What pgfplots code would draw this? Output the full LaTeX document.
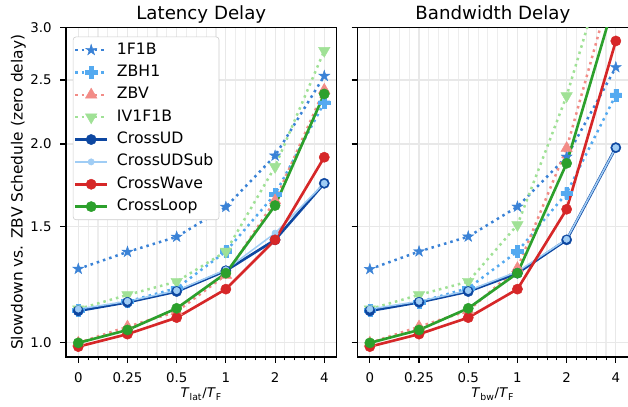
\documentclass[border=0pt]{standalone}
\usepackage{pgfplots}
\pgfplotsset{compat=1.18}
\usepackage{pgfplotstable}
\usepackage{fontspec}
\setmainfont{DejaVu Sans}
\usetikzlibrary{plotmarks}

\definecolor{cOne}{RGB}{58,130,214}
\definecolor{cZbh}{RGB}{85,170,240}
\definecolor{cZbv}{RGB}{242,140,135}
\definecolor{cIv}{RGB}{160,225,150}
\definecolor{cUd}{RGB}{13,71,161}
\definecolor{cUds}{RGB}{160,205,245}
\definecolor{cWave}{RGB}{214,39,40}
\definecolor{cLoop}{RGB}{44,160,44}

% filled five-pointed star
\pgfdeclareplotmark{fstar}{%
  \pgfpathmoveto{\pgfpointpolar{90}{1.3\pgfplotmarksize}}%
  \pgfpathlineto{\pgfpointpolar{126}{0.5\pgfplotmarksize}}%
  \pgfpathlineto{\pgfpointpolar{162}{1.3\pgfplotmarksize}}%
  \pgfpathlineto{\pgfpointpolar{198}{0.5\pgfplotmarksize}}%
  \pgfpathlineto{\pgfpointpolar{234}{1.3\pgfplotmarksize}}%
  \pgfpathlineto{\pgfpointpolar{270}{0.5\pgfplotmarksize}}%
  \pgfpathlineto{\pgfpointpolar{306}{1.3\pgfplotmarksize}}%
  \pgfpathlineto{\pgfpointpolar{342}{0.5\pgfplotmarksize}}%
  \pgfpathlineto{\pgfpointpolar{18}{1.3\pgfplotmarksize}}%
  \pgfpathlineto{\pgfpointpolar{54}{0.5\pgfplotmarksize}}%
  \pgfpathclose
  \pgfusepathqfillstroke}
% filled thick plus
\pgfdeclareplotmark{fplus}{%
  \pgfpathmoveto{\pgfpoint{-0.33\pgfplotmarksize}{\pgfplotmarksize}}%
  \pgfpathlineto{\pgfpoint{0.33\pgfplotmarksize}{\pgfplotmarksize}}%
  \pgfpathlineto{\pgfpoint{0.33\pgfplotmarksize}{0.33\pgfplotmarksize}}%
  \pgfpathlineto{\pgfpoint{\pgfplotmarksize}{0.33\pgfplotmarksize}}%
  \pgfpathlineto{\pgfpoint{\pgfplotmarksize}{-0.33\pgfplotmarksize}}%
  \pgfpathlineto{\pgfpoint{0.33\pgfplotmarksize}{-0.33\pgfplotmarksize}}%
  \pgfpathlineto{\pgfpoint{0.33\pgfplotmarksize}{-\pgfplotmarksize}}%
  \pgfpathlineto{\pgfpoint{-0.33\pgfplotmarksize}{-\pgfplotmarksize}}%
  \pgfpathlineto{\pgfpoint{-0.33\pgfplotmarksize}{-0.33\pgfplotmarksize}}%
  \pgfpathlineto{\pgfpoint{-\pgfplotmarksize}{-0.33\pgfplotmarksize}}%
  \pgfpathlineto{\pgfpoint{-\pgfplotmarksize}{0.33\pgfplotmarksize}}%
  \pgfpathlineto{\pgfpoint{-0.33\pgfplotmarksize}{0.33\pgfplotmarksize}}%
  \pgfpathclose
  \pgfusepathqfillstroke}

% x = position of category (0, 0.25, 0.5, 1, 2, 4)
\pgfplotstableread{
x  one   zbh   zbv   iv    ud    uds   wave  loop
0  1.294 1.121 1.000 1.125 1.118 1.125 0.987 1.000
1  1.373 1.155 1.058 1.182 1.152 1.156 1.031 1.046
2  1.447 1.210 1.115 1.238 1.196 1.200 1.092 1.128
3  1.606 1.375 1.267 1.375 1.286 1.290 1.206 1.275
4  1.920 1.679 1.642 1.848 1.432 1.466 1.432 1.614
5  2.535 2.310 2.414 2.769 1.744 1.744 1.910 2.381
}\latdata

\pgfplotstableread{
x  one   zbh   zbv   iv    ud    uds   wave  loop
0  1.293 1.120 1.000 1.125 1.118 1.125 0.987 1.000
1  1.375 1.153 1.058 1.182 1.152 1.156 1.031 1.046
2  1.448 1.210 1.119 1.238 1.196 1.200 1.092 1.128
3  1.607 1.375 1.297 1.509 1.275 1.282 1.206 1.275
4  1.913 1.685 1.971 2.365 1.432 1.435 1.593 1.870
5  2.613 2.373 3.640 4.190 1.975 1.975 2.864 3.340
}\bwdata

\pgfplotsset{
  panel/.style={
    scale only axis, width=194.8pt, height=237.1pt,
    xmin=-0.25, xmax=5.25,
    ymin=0.952, ymax=3.0,
    xtick={0,1,2,3,4,5}, xticklabels={0,0.25,0.5,1,2,4},
    minor x tick num=4,
    ytick={1,1.5,2,2.5,3}, yticklabels={1.0,1.5,2.0,2.5,3.0},
    tick align=outside, tick pos=left,
    major tick length=4.3pt, minor tick length=2.5pt,
    every tick/.style={black, line width=0.8pt},
    minor tick style={black, line width=0.6pt},
    xmajorgrids, xminorgrids, ymajorgrids,
    major grid style={color=black!9, line width=0.8pt},
    minor grid style={color=black!7, line width=0.8pt},
    axis line style={line width=0.8pt},
    ticklabel style={font=\fontsize{9.6}{11}\selectfont},
    xticklabel style={yshift=-3.4pt},
    yticklabel style={xshift=-2.5pt},
    /pgf/number format/assume math mode=true,
    xlabel style={font=\fontsize{9.6}{11}\selectfont, at={(axis description cs:0.5,0)}, anchor=base, yshift=-29.5pt},
    every axis title shift=0pt,
    title style={font=\fontsize{13.1}{15}\selectfont, at={(axis description cs:0.5,1)}, anchor=base, yshift=5.6pt},
  },
  sOne/.style={cOne, line width=1.8pt, dash pattern=on 1.8pt off 2.9pt, mark=fstar, mark size=3.2pt, mark options={solid, fill=cOne, line width=0.3pt}},
  sZbh/.style={cZbh, line width=1.8pt, dash pattern=on 1.8pt off 2.9pt, mark=fplus, mark size=4.2pt, mark options={solid, fill=cZbh, line width=0.3pt}},
  sZbv/.style={cZbv, line width=1.8pt, dash pattern=on 1.8pt off 2.9pt, mark=triangle*, mark size=4.8pt, mark options={solid, fill=cZbv, line width=0.3pt}},
  sIv/.style={cIv, line width=1.8pt, dash pattern=on 1.8pt off 2.9pt, mark=triangle*, mark size=4.8pt, mark options={solid, fill=cIv, rotate=180, line width=0.3pt}},
  sUd/.style={cUd, line width=1.9pt, mark=*, mark size=3.7pt, mark options={fill=cUd, line width=0.3pt}},
  sUds/.style={cUds, line width=1.1pt, mark=*, mark size=2.3pt, mark options={fill=cUds, line width=0.3pt}},
  sWave/.style={cWave, line width=1.9pt, mark=*, mark size=3.7pt, mark options={fill=cWave, line width=0.3pt}},
  sLoop/.style={cLoop, line width=1.9pt, mark=*, mark size=3.7pt, mark options={fill=cLoop, line width=0.3pt}},
}

\begin{document}
\begin{tikzpicture}
\begin{axis}[ymode=log, panel,
  at={(0,0)}, anchor=south west,
  title={Latency Delay},
  xlabel={\textit{T}\textsubscript{lat}/\textit{T}\textsubscript{F}},
  ylabel={Slowdown vs. ZBV Schedule (zero delay)},
  ylabel style={font=\fontsize{11.1}{13}\selectfont, yshift=-3.6pt},
  legend cell align=left,
  legend image code/.code={\draw[mark repeat=2, mark phase=2] plot coordinates {(0pt,0pt) (11.5pt,0pt) (23pt,0pt)};},
  legend style={at={(axis description cs:0,1)}, anchor=north west, xshift=5pt, yshift=-6.5pt,
    draw=black!20, rounded corners=2pt, fill=white, inner xsep=0.5pt, inner ysep=2.3pt,
    row sep=1.8pt, column sep=2.6pt,
    font=\fontsize{11.3}{13}\selectfont,
    nodes={inner xsep=3.5pt, inner ysep=2pt, text height=8pt, text depth=2.3pt, font=\fontsize{11.3}{13}\selectfont}},
]
\addplot[sOne]  table[x=x, y=one]  {\latdata};
\addplot[sZbh]  table[x=x, y=zbh]  {\latdata};
\addplot[sZbv]  table[x=x, y=zbv]  {\latdata};
\addplot[sIv]   table[x=x, y=iv]   {\latdata};
\addplot[sUd]   table[x=x, y=ud]   {\latdata};
\addplot[sUds]  table[x=x, y=uds]  {\latdata};
\addplot[sWave] table[x=x, y=wave] {\latdata};
\addplot[sLoop] table[x=x, y=loop] {\latdata};
\legend{1F1B,ZBH1,ZBV,IV1F1B,CrossUD,CrossUDSub,CrossWave,CrossLoop}
\end{axis}

\begin{axis}[ymode=log, panel,
  at={(209.9pt,0)}, anchor=south west,
  title={Bandwidth Delay},
  xlabel={\textit{T}\textsubscript{bw}/\textit{T}\textsubscript{F}},
  yticklabels={},
]
\addplot[sOne]  table[x=x, y=one]  {\bwdata};
\addplot[sZbh]  table[x=x, y=zbh]  {\bwdata};
\addplot[sZbv]  table[x=x, y=zbv]  {\bwdata};
\addplot[sIv]   table[x=x, y=iv]   {\bwdata};
\addplot[sUd]   table[x=x, y=ud]   {\bwdata};
\addplot[sUds]  table[x=x, y=uds]  {\bwdata};
\addplot[sWave] table[x=x, y=wave] {\bwdata};
\addplot[sLoop] table[x=x, y=loop] {\bwdata};
\end{axis}

\pgfresetboundingbox
\path (-47.5pt,-35.3pt) rectangle (404.6pt,257.0pt);
\end{tikzpicture}
\end{document}
